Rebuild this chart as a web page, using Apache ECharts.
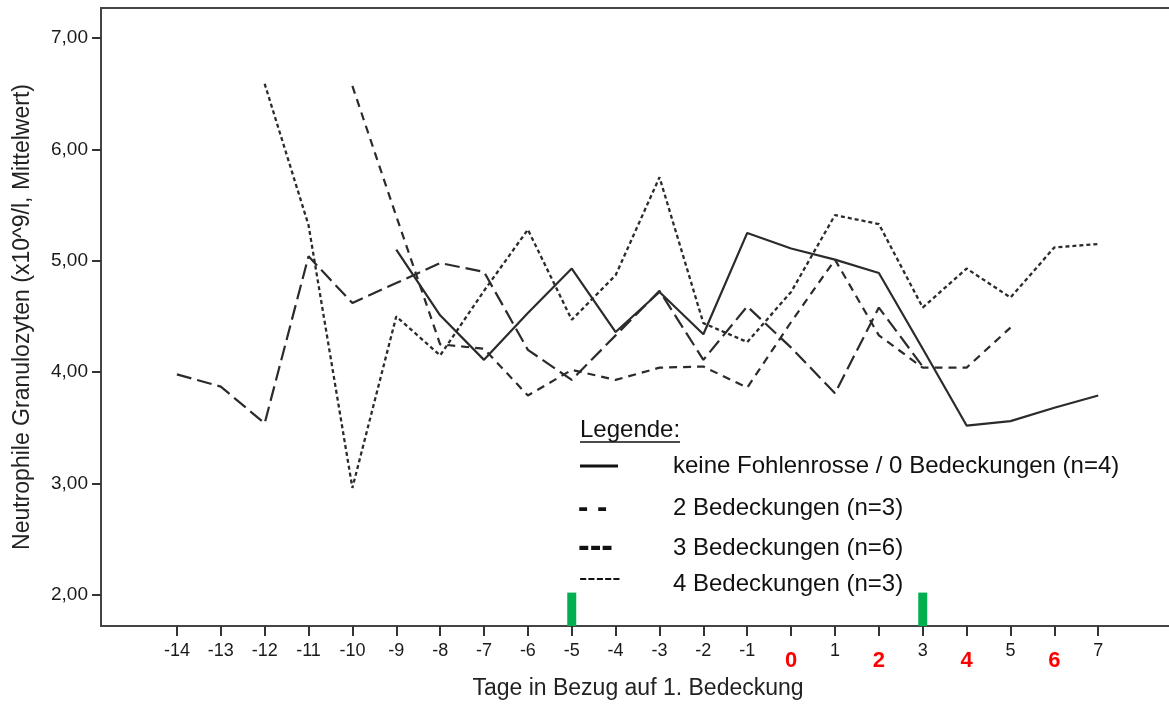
<!DOCTYPE html>
<html>
<head>
<meta charset="utf-8">
<script src="https://cdn.jsdelivr.net/npm/echarts@6/dist/echarts.min.js"></script>
<style>
html,body{margin:0;padding:0;background:#fff;}
#c{width:1169px;height:704px;}
</style>
</head>
<body>
<div id="c"></div>
<script>
const days = [-14,-13,-12,-11,-10,-9,-8,-7,-6,-5,-4,-3,-2,-1,0,1,2,3,4,5,6,7];
const keine = [null,null,null,null,null,5.10,4.51,4.11,4.53,4.93,4.36,4.72,4.34,5.25,5.11,5.01,4.89,4.21,3.52,3.56,3.68,3.79];
const bed2  = [null,null,null,null,6.57,5.40,4.25,4.21,3.79,4.02,3.93,4.04,4.05,3.86,4.45,5.01,4.33,4.04,4.04,4.40,null,null];
const bed3  = [3.98,3.87,3.54,5.04,4.62,4.80,4.98,4.90,4.20,3.93,4.33,4.73,4.11,4.59,4.22,3.81,4.58,4.05,null,null,null,null];
const bed4  = [null,null,6.59,5.32,2.96,4.50,4.15,4.73,5.28,4.47,4.87,5.75,4.44,4.27,4.72,5.41,5.33,4.58,4.93,4.67,5.12,5.15];
const seriesNames = ['keine Fohlenrosse / 0 Bedeckungen (n=4)','2 Bedeckungen (n=3)','3 Bedeckungen (n=6)','4 Bedeckungen (n=3)'];
const legendSymbols = ['', '- -', '---', '-----'];
const redDays = [0,2,4,6];
const greenDays = [-5,3];
const greenTop = [2.02,2.02];
const yTicks = [2,3,4,5,6,7];

const toPts = arr => days.map((d,i)=>[d, arr[i]]);
const FONT = "'Liberation Sans', Arial, sans-serif";
const lineCol = '#2b2b2b';

const chart = echarts.init(document.getElementById('c'), null, {renderer:'canvas'});
const option = {
  animation:false,
  backgroundColor:'#fff',
  grid:{left:101, top:8, width:1074, height:618, show:true, borderColor:'#444', borderWidth:2,
        backgroundColor:'transparent', containLabel:false, outerBoundsMode:'none'},
  xAxis:{
    type:'value', min:-15.73, max:8.75,
    splitLine:{show:false},
    axisLine:{show:true, onZero:false, lineStyle:{color:'#444', width:2}},
    axisTick:{show:true, customValues:days, length:10, lineStyle:{color:'#333', width:2}},
    axisLabel:{
      customValues:days, margin:16, fontFamily:FONT, hideOverlap:false,
      formatter:v => redDays.indexOf(v) >= 0 ? '{r|'+v+'}' : '{n|'+v+'}',
      rich:{
        n:{fontSize:18, color:'#1a1a1a', fontFamily:FONT},
        r:{fontSize:22, fontWeight:'bold', color:'#ff0000', fontFamily:FONT, padding:[8,0,0,0]}
      }
    },
    name:'Tage in Bezug auf 1. Bedeckung', nameLocation:'middle', nameGap:50,
    nameTextStyle:{fontSize:23, color:'#222', fontFamily:FONT}
  },
  yAxis:{
    type:'value', min:1.72, max:7.27,
    splitLine:{show:false},
    axisLine:{show:true, onZero:false, lineStyle:{color:'#444', width:2}},
    axisTick:{show:true, customValues:yTicks, length:9, lineStyle:{color:'#333', width:2}},
    axisLabel:{customValues:yTicks, margin:13, fontSize:19, color:'#1a1a1a', fontFamily:FONT,
      formatter:v => v.toFixed(2).replace('.', ',')},
    name:'Neutrophile Granulozyten (x10^9/l, Mittelwert)', nameLocation:'middle', nameGap:67,
    nameTextStyle:{fontSize:23, color:'#222', fontFamily:FONT}
  },
  series:[
    {name:'green', type:'bar', data:greenDays.map((d,i)=>[d, greenTop[i]]), barWidth:9, itemStyle:{color:'#00b050'}, clip:true, z:1},
    {name:seriesNames[0], type:'line', data:toPts(keine), showSymbol:false, lineStyle:{color:lineCol, width:2.2, type:'solid'}, z:3},
    {name:seriesNames[1], type:'line', data:toPts(bed2), showSymbol:false, lineStyle:{color:lineCol, width:2.2, type:[8,6]}, z:3},
    {name:seriesNames[2], type:'line', data:toPts(bed3), showSymbol:false, lineStyle:{color:lineCol, width:2.2, type:[15,6]}, z:3},
    {name:seriesNames[3], type:'line', data:toPts(bed4), showSymbol:false, lineStyle:{color:lineCol, width:2.3, type:[4,3]}, z:3}
  ],
  graphic:[
    {type:'text', x:580, y:430, style:{text:'Legende:', fontSize:24, fill:'#111', fontFamily:FONT, verticalAlign:'middle'}},
    {type:'line', shape:{x1:580, y1:442, x2:680, y2:442}, style:{stroke:'#111', lineWidth:1.5}},
    {type:'line', shape:{x1:580, y1:466, x2:618, y2:466}, style:{stroke:'#111', lineWidth:3}},
    {type:'text', x:578, y:508, style:{text:legendSymbols[1], fontSize:31, fontWeight:'bold', fill:'#111', fontFamily:FONT, verticalAlign:'middle'}},
    {type:'text', x:578, y:547, style:{text:legendSymbols[2], fontSize:35, fontWeight:'bold', fill:'#111', fontFamily:FONT, verticalAlign:'middle'}},
    {type:'text', x:579, y:579, style:{text:legendSymbols[3], fontSize:25, fill:'#111', fontFamily:FONT, verticalAlign:'middle'}},
    {type:'text', x:673, y:466, style:{text:seriesNames[0], fontSize:24, fill:'#111', fontFamily:FONT, verticalAlign:'middle'}},
    {type:'text', x:673, y:508, style:{text:seriesNames[1], fontSize:24, fill:'#111', fontFamily:FONT, verticalAlign:'middle'}},
    {type:'text', x:673, y:548, style:{text:seriesNames[2], fontSize:24, fill:'#111', fontFamily:FONT, verticalAlign:'middle'}},
    {type:'text', x:673, y:584, style:{text:seriesNames[3], fontSize:24, fill:'#111', fontFamily:FONT, verticalAlign:'middle'}}
  ]
};
chart.setOption(option);
</script>
</body>
</html>
